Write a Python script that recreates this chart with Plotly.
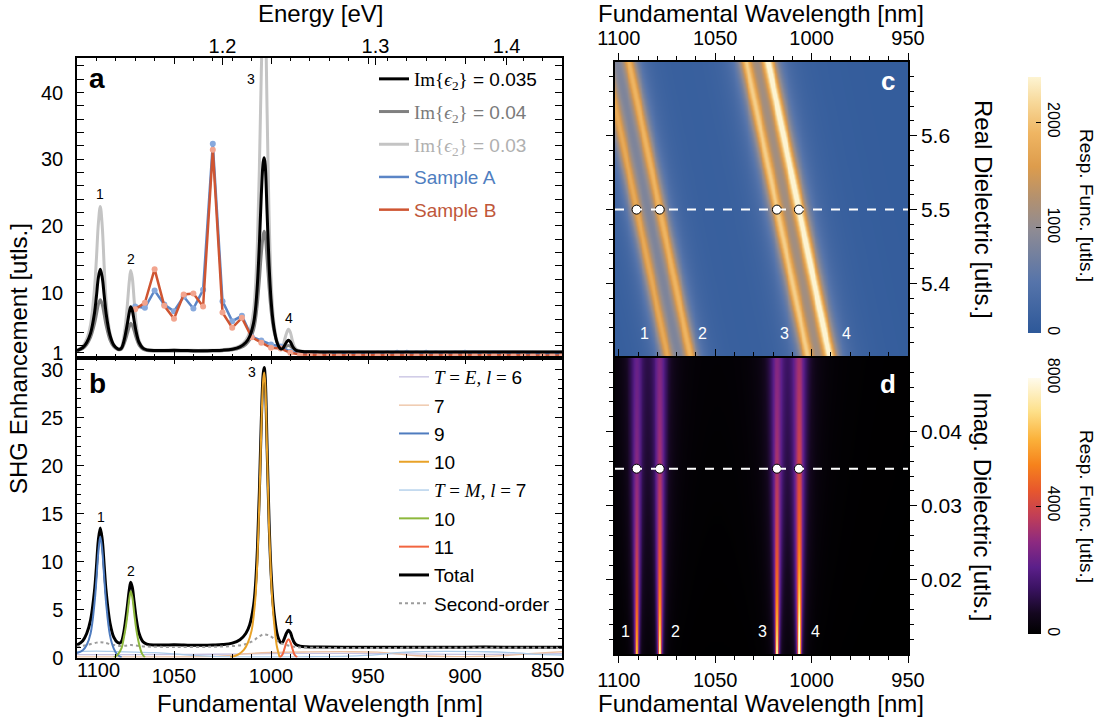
import numpy as np
import plotly.graph_objects as go

W, H = 1104, 725
FONT = "Liberation Sans, Arial, Helvetica, sans-serif"


def px(x):
    return x / W


def py(y):
    return 1 - y / H


# ---------------- panel a / b : theory curves ----------------
wl_theory = [1100, 1097, 1095, 1093, 1091, 1090, 1089, 1088, 1087, 1086,
             1085, 1083, 1081, 1079, 1078, 1077, 1076, 1075, 1074, 1073,
             1072.3, 1071.5, 1070.5, 1069.5, 1068, 1066, 1064, 1060, 1055, 1050,
             1045, 1040, 1035, 1030, 1025, 1020, 1016, 1013, 1011, 1009,
             1008, 1007, 1006, 1005, 1004, 1003.5, 1003, 1002, 1001, 1000,
             999, 998, 997, 996, 995, 994, 993, 992, 991, 990,
             989, 988, 987, 985, 982, 975, 960, 940, 920, 900,
             880, 860, 850]

im_035_total = [1.30, 1.75, 2.5, 3.9, 6.9, 9.4, 12.2, 13.5, 12.3, 9.6,
                6.9, 3.6, 2.1, 1.55, 1.5, 1.7, 2.5, 3.8, 5.4, 7.1,
                7.85, 7.3, 5.7, 4.1, 2.5, 1.65, 1.4, 1.3, 1.3, 1.32,
                1.3, 1.27, 1.27, 1.3, 1.35, 1.5, 1.85, 2.5, 3.4, 5.4,
                7.5, 11.3, 17.2, 24.6, 29.6, 30.2, 29.2, 21.8, 14.2, 9.0,
                5.8, 3.9, 2.6, 1.9, 1.55, 1.6, 2.05, 2.55, 2.85, 2.6,
                2.0, 1.55, 1.32, 1.18, 1.12, 1.09, 1.07, 1.06, 1.07, 1.08,
                1.08, 1.07, 1.07]

im_040 = [1.25, 1.6, 2.2, 3.3, 5.3, 6.7, 8.2, 8.9, 8.2, 6.7,
          5.1, 2.9, 1.85, 1.45, 1.4, 1.55, 2.1, 2.9, 3.9, 4.9,
          5.4, 5.1, 4.2, 3.2, 2.1, 1.5, 1.3, 1.22, 1.22, 1.24,
          1.22, 1.2, 1.2, 1.22, 1.27, 1.4, 1.7, 2.2, 2.9, 4.4,
          5.9, 8.4, 11.8, 15.8, 18.6, 19.2, 18.6, 15.0, 10.8, 7.4,
          5.1, 3.6, 2.6, 2.0, 1.7, 1.6, 1.75, 1.95, 2.05, 1.95,
          1.7, 1.45, 1.3, 1.15, 1.1, 1.07, 1.05, 1.04, 1.05, 1.06,
          1.06, 1.05, 1.05]

im_030 = [1.35, 1.95, 3.0, 5.2, 10.5, 15.0, 20.3, 22.9, 20.0, 14.0,
          8.8, 3.9, 2.1, 1.6, 1.55, 1.85, 3.1, 5.2, 8.3, 11.8,
          13.3, 12.2, 8.7, 5.4, 2.8, 1.75, 1.45, 1.35, 1.35, 1.37,
          1.35, 1.32, 1.32, 1.35, 1.42, 1.6, 2.0, 2.8, 4.1, 7.2,
          10.8, 17.5, 28.5, 43.0, 53.5, 55.5, 53.0, 37.0, 21.5, 12.3,
          7.0, 4.4, 2.9, 2.1, 1.7, 1.9, 2.9, 3.9, 4.5, 4.0,
          2.8, 1.9, 1.5, 1.25, 1.15, 1.1, 1.08, 1.07, 1.08, 1.09,
          1.09, 1.08, 1.08]

wl_second = [1100, 1095, 1090, 1088, 1086, 1082, 1078, 1074, 1072, 1070,
             1065, 1050, 1030, 1015, 1010, 1007, 1004, 1001, 998, 995,
             992, 989, 985, 970, 940, 900, 870, 850]
second_order = [1.1, 1.3, 1.55, 1.6, 1.55, 1.35, 1.2, 1.25, 1.3, 1.25,
                1.15, 1.1, 1.12, 1.3, 1.65, 2.05, 2.4, 2.3, 1.9, 1.5,
                1.3, 1.15, 1.05, 1.0, 1.0, 1.02, 1.02, 1.0]

# mode components (panel b)
wl_E6 = [1100, 1070, 1040, 1010, 990, 960, 930, 900, 870, 850]
val_E6 = [0.3, 0.3, 0.32, 0.38, 0.42, 0.42, 0.38, 0.32, 0.35, 0.4]

wl_E7 = [1100, 1060, 1035, 1022, 1012, 1000, 980, 960, 945, 935, 925, 905, 880, 865, 850]
val_E7 = [0.05, 0.05, 0.08, 0.2, 0.4, 0.52, 0.58, 0.6, 0.55, 0.38, 0.18, 0.1, 0.2, 0.42, 0.6]

wl_E9 = [1100, 1097, 1095, 1093, 1091, 1090, 1089, 1088, 1087, 1086, 1085, 1083, 1081, 1079, 1077]
val_E9 = [0.45, 0.75, 1.3, 2.5, 5.6, 8.1, 11.0, 12.6, 11.2, 8.4, 5.7, 2.3, 0.9, 0.25, 0.0]

wl_E10 = [1021, 1017, 1014, 1012, 1010, 1009, 1008, 1007, 1006, 1005,
          1004, 1003.5, 1003, 1002, 1001, 1000, 999, 998, 997, 995.5]
val_E10 = [0.0, 0.3, 0.8, 1.5, 2.8, 4.2, 6.3, 10.2, 16.2, 23.8,
           29.0, 29.7, 28.6, 21.2, 13.6, 8.4, 5.0, 2.8, 1.2, 0.0]

wl_M7 = [1100, 1090, 1080, 1070, 1060, 1050, 1040, 1030, 1015, 1000,
         980, 960, 945, 935, 925, 910, 890, 875, 862, 850]
val_M7 = [0.62, 0.66, 0.62, 0.56, 0.5, 0.38, 0.22, 0.12, 0.06, 0.05,
          0.08, 0.15, 0.3, 0.5, 0.6, 0.63, 0.6, 0.5, 0.32, 0.25]

wl_M10 = [1081, 1079, 1077, 1076, 1075, 1074, 1073, 1072.3, 1071.5, 1070.5, 1069.5, 1068, 1066.5, 1065]
val_M10 = [0.0, 0.3, 1.0, 1.9, 3.0, 4.5, 6.2, 6.9, 6.3, 4.6, 3.0, 1.4, 0.4, 0.0]

wl_M11 = [995.5, 994, 993, 992, 991, 990, 989, 988, 986.5]
val_M11 = [0.0, 0.35, 0.95, 1.6, 1.9, 1.6, 0.95, 0.35, 0.0]

# measured samples
wl_samples = [1070, 1065, 1060, 1055, 1050, 1045, 1040, 1035, 1030, 1025,
              1020, 1015, 1010, 1005, 1000, 995, 990, 985, 980, 975,
              970, 965, 960, 955, 950, 945, 940, 935, 930, 925,
              920, 915, 910, 905, 900, 895, 890, 885, 880, 875,
              870, 865, 860, 855, 850]
sample_A = [7.9, 7.7, 10.3, 8.2, 7.2, 9.4, 7.6, 10.4, 32.3, 8.7,
            5.7, 6.5, 3.4, 2.8, 2.2, 1.9, 1.1, 0.9, 0.85, 0.8,
            0.85, 0.8, 0.8, 0.85, 0.8, 0.85, 0.9, 0.95, 0.95, 0.9,
            0.95, 0.9, 0.85, 0.9, 0.95, 0.9, 0.85, 0.9, 0.85, 0.8,
            0.85, 0.8, 0.75, 0.8, 0.75]
sample_B = [7.5, 8.45, 13.5, 8.0, 6.05, 9.7, 9.85, 7.9, 31.4, 7.0,
            4.7, 6.2, 3.3, 2.45, 1.7, 1.6, 0.95, 0.7, 0.65, 0.6,
            0.62, 0.6, 0.58, 0.6, 0.62, 0.6, 0.63, 0.65, 0.62, 0.6,
            0.62, 0.6, 0.58, 0.6, 0.62, 0.6, 0.58, 0.6, 0.58, 0.56,
            0.58, 0.56, 0.55, 0.56, 0.55]

# peak annotations (label, wavelength, value)
peaks_a = [("1", 1088.2, 24.8), ("2", 1072.3, 15.1), ("3", 1010.3, 42.0), ("4", 990.9, 6.2)]
peaks_b = [("1", 1087.8, 14.6), ("2", 1072.3, 9.0), ("3", 1010.0, 29.7), ("4", 990.9, 3.9)]

# axis ticks
wl_major_left = [1050, 1000, 950, 900]
wl_minor_left = [1090, 1080, 1070, 1060, 1040, 1030, 1020, 1010, 990, 980, 970, 960,
                 940, 930, 920, 910, 890, 880, 870, 860]
energy_ticks = [1.2, 1.3, 1.4]
EV_NM = 1230.0  # conversion used by the top energy scale as drawn
ya_ticks = [1, 10, 20, 30, 40]
ya_minor = [2, 4, 6, 8, 12, 14, 16, 18, 22, 24, 26, 28, 32, 34, 36, 38, 42, 44]
yb_ticks = [0, 5, 10, 15, 20, 25, 30]
yb_minor = [1, 2, 3, 4, 6, 7, 8, 9, 11, 12, 13, 14, 16, 17, 18, 19, 21, 22, 23, 24, 26, 27, 28, 29, 31]

# ---------------- panels c / d : response maps ----------------
band_wl = [1090.8, 1078.8, 1018.0, 1006.6]      # band centres at Re=5.5 / all Im
band_amp_c = [1550, 1700, 1850, 2350]
band_hwhm_c = 3.3
band_drift_c = 80.0                              # nm per unit of Re
bg_c = 70
band_amp_d = [2700, 3200, 3200, 3900]            # at Im = 0.035
band_hwhm_d = 2.4
amp_exp_d = 0.75
re_ref, im_ref = 5.5, 0.035
re_ticks = [5.4, 5.5, 5.6]
re_minor = [5.32, 5.34, 5.36, 5.38, 5.42, 5.44, 5.46, 5.48, 5.52, 5.54, 5.56, 5.58, 5.62, 5.64, 5.66, 5.68]
im_ticks = [0.02, 0.03, 0.04]
im_minor = [0.012, 0.014, 0.016, 0.018, 0.022, 0.024, 0.026, 0.028, 0.032, 0.034, 0.036, 0.038,
            0.042, 0.044, 0.046, 0.048]
wl_major_right = [1100, 1050, 1000, 950]
wl_minor_right = [1090, 1080, 1070, 1060, 1040, 1030, 1020, 1010, 990, 980, 970, 960]
map_labels_c = [("1", 1086.5, 5.332), ("2", 1056.6, 5.332), ("3", 1014.0, 5.332), ("4", 982.0, 5.332)]
map_labels_d = [("1", 1096.4, 0.0130), ("2", 1070.6, 0.0130), ("3", 1025.5, 0.0130), ("4", 998.0, 0.0130)]

wl_grid = np.arange(950.0, 1102.0 + 0.125, 0.25)
re_grid = np.linspace(5.30, 5.70, 121)
im_grid = np.linspace(0.010, 0.050, 121)


def lorentz(x, c, w):
    return 1.0 / (1.0 + ((x - c) / w) ** 2)


Zc = np.full((len(re_grid), len(wl_grid)), float(bg_c))
for c0, a in zip(band_wl, band_amp_c):
    centre = c0 + band_drift_c * (re_grid[:, None] - re_ref)
    Zc += a * lorentz(wl_grid[None, :], centre, band_hwhm_c)

Zd = np.zeros((len(im_grid), len(wl_grid)))
for c0, a in zip(band_wl, band_amp_d):
    w = band_hwhm_d * im_grid[:, None] / im_ref
    Zd += a * (im_ref / im_grid[:, None]) ** amp_exp_d * lorentz(wl_grid[None, :], c0, w)

cs_c = [[0, '#2d5899'], [0.2, '#5674aa'], [0.4, '#8e8b94'], [0.53, '#b4916e'], [0.65, '#dd9c4c'],
        [0.78, '#efb562'], [0.9, '#f7d899'], [1, '#fdf4d2']]
cs_d = [[0, '#000000'], [0.08, '#14071f'], [0.18, '#3b1363'], [0.26, '#5b1f8a'], [0.36, '#8d2a80'],
        [0.46, '#c13e57'], [0.56, '#e7572d'], [0.66, '#f6821c'], [0.76, '#fbb13a'], [0.87, '#fde08a'],
        [1, '#fffbec']]

fig = go.Figure()


def serif(s):
    return '<span style="font-family:Liberation Serif, DejaVu Serif, serif">' + s + '</span>'


im_name = serif('Im{<i>ϵ</i><sub>2</sub>}') + ' = '

# ---------------- panel a traces ----------------
fig.add_trace(go.Scatter(x=wl_theory, y=im_030, mode='lines', line=dict(color='#c4c4c4', width=3, shape='spline'),
                         name='<span style="color:#b0b0b0">' + im_name + '0.03</span>',
                         legend='legend', legendrank=3, legendgroup='g3', xaxis='x', yaxis='y'))
fig.add_trace(go.Scatter(x=wl_theory, y=im_040, mode='lines', line=dict(color='#808080', width=3, shape='spline'),
                         name='<span style="color:#7a7a7a">' + im_name + '0.04</span>',
                         legend='legend', legendrank=2, legendgroup='g2', xaxis='x', yaxis='y'))
fig.add_trace(go.Scatter(x=wl_samples, y=sample_A, mode='lines', line=dict(color='#5b85c6', width=2.5),
                         name='<span style="color:#4f7ec0">Sample A</span>',
                         legend='legend', legendrank=4, legendgroup='g4', xaxis='x', yaxis='y'))
fig.add_trace(go.Scatter(x=wl_samples, y=sample_A, mode='markers', marker=dict(color='#87a9dd', size=6),
                         showlegend=False, xaxis='x', yaxis='y'))
fig.add_trace(go.Scatter(x=wl_samples, y=sample_B, mode='lines', line=dict(color='#cf5532', width=2.5),
                         name='<span style="color:#c0573a">Sample B</span>',
                         legend='legend', legendrank=5, legendgroup='g5', xaxis='x', yaxis='y'))
fig.add_trace(go.Scatter(x=wl_samples, y=sample_B, mode='markers', marker=dict(color='#f2a48e', size=6),
                         showlegend=False, xaxis='x', yaxis='y'))
fig.add_trace(go.Scatter(x=wl_theory, y=im_035_total, mode='lines', line=dict(color='black', width=3, shape='spline'),
                         name=im_name + '0.035',
                         legend='legend', legendrank=1, legendgroup='g1', xaxis='x', yaxis='y'))
# carrier for the top energy scale
fig.add_trace(go.Scatter(x=[1100, 850], y=[None, None], mode='lines', xaxis='x5', yaxis='y',
                         showlegend=False, hoverinfo='skip'))

# ---------------- panel b traces ----------------
fig.add_trace(go.Scatter(x=wl_theory, y=im_035_total, mode='lines', line=dict(color='black', width=3, shape='spline'),
                         name='Total', legend='legend2', legendrank=8, legendgroup='b8',
                         xaxis='x2', yaxis='y2'))
comp = [
    (wl_E6, val_E6, '#c6c1e2', 1.3, serif('<i>T</i> = <i>E</i>, <i>l</i> = ') + '6', 1),
    (wl_E7, val_E7, '#ecc0a0', 1.3, '7', 2),
    (wl_M7, val_M7, '#abcbe9', 1.3, serif('<i>T</i> = <i>M</i>, <i>l</i> = ') + '7', 5),
]
for xs, ys, col, lw, nm, rk in comp:
    fig.add_trace(go.Scatter(x=xs, y=ys, mode='lines', line=dict(color=col, width=lw, shape='spline'),
                             name=nm, legend='legend2', legendrank=rk, legendgroup=f'b{rk}',
                             xaxis='x2', yaxis='y2'))
fig.add_trace(go.Scatter(x=wl_second, y=second_order, mode='lines',
                         line=dict(color='#9c9c9c', width=2, dash='dot', shape='spline'),
                         name='Second-order', legend='legend2', legendrank=9, legendgroup='b9',
                         xaxis='x2', yaxis='y2'))
comp2 = [
    (wl_E9, val_E9, '#4f7cbf', 2, '9', 3),
    (wl_E10, val_E10, '#e8a228', 2, '10', 4),
    (wl_M10, val_M10, '#8db83c', 2, '10', 6),
    (wl_M11, val_M11, '#f26540', 2, '11', 7),
]
for xs, ys, col, lw, nm, rk in comp2:
    fig.add_trace(go.Scatter(x=xs, y=ys, mode='lines', line=dict(color=col, width=lw, shape='spline'),
                             name=nm, legend='legend2', legendrank=rk, legendgroup=f'b{rk}',
                             xaxis='x2', yaxis='y2'))

# ---------------- panel c / d heatmaps ----------------
cb_common = dict(x=px(1028), xanchor='left', xpad=0, thickness=13, lenmode='pixels', len=256,
                 yanchor='middle', ypad=0, tickangle=90, ticks='inside', ticklen=5,
                 tickcolor='black', outlinewidth=0, tickfont=dict(size=16, family=FONT, color='black'))
fig.add_trace(go.Heatmap(x=wl_grid, y=re_grid, z=np.round(Zc).astype(int), colorscale=cs_c, zmin=0, zmax=2430,
                         zsmooth='best', xaxis='x3', yaxis='y3', showlegend=False, hoverinfo='skip',
                         colorbar=dict(cb_common, y=py(205), tickvals=[0, 1000, 2000])))
fig.add_trace(go.Heatmap(x=wl_grid, y=im_grid, z=np.round(Zd).astype(int), colorscale=cs_d, zmin=0, zmax=8000,
                         zsmooth='best', xaxis='x4', yaxis='y4', showlegend=False, hoverinfo='skip',
                         colorbar=dict(cb_common, y=py(506), tickvals=[0, 4000, 8000])))
fig.add_trace(go.Scatter(x=band_wl, y=[re_ref] * 4, mode='markers', xaxis='x3', yaxis='y3', showlegend=False,
                         marker=dict(color='white', size=9, line=dict(color='black', width=1))))
fig.add_trace(go.Scatter(x=band_wl, y=[im_ref] * 4, mode='markers', xaxis='x4', yaxis='y4', showlegend=False,
                         marker=dict(color='white', size=9, line=dict(color='black', width=1))))

# ---------------- layout ----------------
LX = [px(77), px(562)]
RX = [px(615), px(908)]
A_Y = [py(357.5), py(57.5)]
B_Y = [py(657.5), py(357.5)]
C_Y = [py(357.5), py(61.7)]
D_Y = [py(654), py(357.5)]

tickfont = dict(size=20, family=FONT, color='black')
base = dict(showline=True, linecolor='black', linewidth=1.5, showgrid=False, zeroline=False,
            tickcolor='black', tickwidth=1.3, tickfont=tickfont, automargin=False)


def minor(vals, ticks='inside', ln=4):
    return dict(tickmode='array', tickvals=vals, ticks=ticks, ticklen=ln, tickcolor='black', tickwidth=1)


layout = dict(
    width=W, height=H, margin=dict(l=0, r=0, t=0, b=0, autoexpand=False),
    paper_bgcolor='white', plot_bgcolor='white',
    font=dict(family=FONT, color='black', size=18),
    xaxis=dict(base, domain=LX, anchor='y', range=[1100, 850], tickmode='array', tickvals=wl_major_left,
               showticklabels=False, ticks='inside', ticklen=7, mirror='allticks',
               minor=minor(wl_minor_left)),
    xaxis5=dict(base, overlaying='x', anchor='y', side='top', range=[1100, 850], showline=False,
                tickmode='array', tickvals=[EV_NM / e for e in energy_ticks],
                ticktext=[f'{e:.1f}' for e in energy_ticks], ticks='inside', ticklen=7),
    yaxis=dict(base, domain=A_Y, anchor='x', range=[0.25, 45.25], tickmode='array', tickvals=ya_ticks,
               ticks='inside', ticklen=7, mirror='allticks', minor=minor(ya_minor), ticklabelstandoff=8),
    xaxis2=dict(base, domain=LX, anchor='y2', range=[1100, 850], tickmode='array', tickvals=wl_major_left,
                ticks='inside', ticklen=7, mirror='allticks', minor=minor(wl_minor_left)),
    yaxis2=dict(base, domain=B_Y, anchor='x2', range=[0, 31.25], tickmode='array', tickvals=yb_ticks,
                ticks='inside', ticklen=7, mirror='allticks', minor=minor(yb_minor), ticklabelstandoff=8),
    xaxis3=dict(base, domain=RX, anchor='y3', side='top', range=[1102, 950], tickmode='array',
                tickvals=wl_major_right, ticks='outside', ticklen=7, mirror='allticks',
                minor=minor(wl_minor_right, 'outside')),
    yaxis3=dict(base, domain=C_Y, anchor='x3', side='right', range=[5.30, 5.70], tickmode='array',
                tickvals=re_ticks, ticks='outside', ticklen=7, mirror='allticks',
                minor=minor(re_minor, 'outside'), tickfont=dict(size=21, family=FONT, color='black')),
    xaxis4=dict(base, domain=RX, anchor='y4', side='bottom', range=[1102, 950], tickmode='array',
                tickvals=wl_major_right, ticks='outside', ticklen=7, mirror='allticks',
                minor=minor(wl_minor_right, 'outside')),
    yaxis4=dict(base, domain=D_Y, anchor='x4', side='right', range=[0.01, 0.05], tickmode='array',
                tickvals=im_ticks, ticktext=[f'{v:.2f}' for v in im_ticks], ticks='outside', ticklen=7,
                mirror='allticks', minor=minor(im_minor, 'outside'),
                tickfont=dict(size=21, family=FONT, color='black')),
    legend=dict(x=px(374), y=py(60), xanchor='left', yanchor='top', bgcolor='rgba(0,0,0,0)',
                font=dict(size=19, family=FONT, color='black'), tracegroupgap=5, itemwidth=30,
                traceorder='grouped'),
    legend2=dict(x=px(394), y=py(358), xanchor='left', yanchor='top', bgcolor='rgba(0,0,0,0)',
                 font=dict(size=19, family=FONT, color='black'), tracegroupgap=0.6, itemwidth=30,
                 traceorder='grouped'),
    shapes=[
        dict(type='line', xref='x3', yref='y3', x0=1102, x1=950, y0=re_ref, y1=re_ref,
             line=dict(color='white', width=2, dash='dash'), layer='above'),
        dict(type='line', xref='x4', yref='y4', x0=1102, x1=950, y0=im_ref, y1=im_ref,
             line=dict(color='white', width=2, dash='dash'), layer='above'),
    ],
)
fig.update_layout(**layout)

ann = []


def text(x, y, s, size=24, angle=0, color='black', bold=False, xref='paper', yref='paper'):
    ann.append(dict(x=x, y=y, xref=xref, yref=yref, text=('<b>' + s + '</b>') if bold else s,
                    showarrow=False, textangle=angle, xanchor='center', yanchor='middle',
                    font=dict(size=size, family=FONT, color=color)))


text(px(320), py(14), 'Energy [eV]')
text(px(320), py(703), 'Fundamental Wavelength [nm]')
text(px(761), py(703), 'Fundamental Wavelength [nm]')
text(px(761), py(14), 'Fundamental Wavelength [nm]')
text(px(18), py(359), 'SHG Enhancement [utls.]', angle=-90)
text(px(983), py(209), 'Real Dielectric [utls.]', angle=90)
text(px(983), py(506), 'Imag. Dielectric [utls.]', angle=90)
text(px(1087), py(205), 'Resp. Func. [utls.]', size=19, angle=90)
text(px(1087), py(506), 'Resp. Func. [utls.]', size=19, angle=90)
text(px(98), py(670), '1100', size=20)
text(px(547), py(670), '850', size=20)
text(px(97), py(79), 'a', size=28, bold=True)
text(px(97), py(383), 'b', size=28, bold=True)
text(px(888), py(81), 'c', size=26, bold=True, color='white')
text(px(888), py(384), 'd', size=26, bold=True, color='white')
for s, xv, yv in peaks_a:
    text(xv, yv, s, size=14, xref='x', yref='y')
for s, xv, yv in peaks_b:
    text(xv, yv, s, size=14, xref='x2', yref='y2')
for s, xv, yv in map_labels_c:
    text(xv, yv, s, size=16, color='white', xref='x3', yref='y3')
for s, xv, yv in map_labels_d:
    text(xv, yv, s, size=16, color='white', xref='x4', yref='y4')

fig.update_layout(annotations=ann)
fig.write_html("out.html", config={'displayModeBar': False},
               post_script="document.body.style.margin='0px';")
